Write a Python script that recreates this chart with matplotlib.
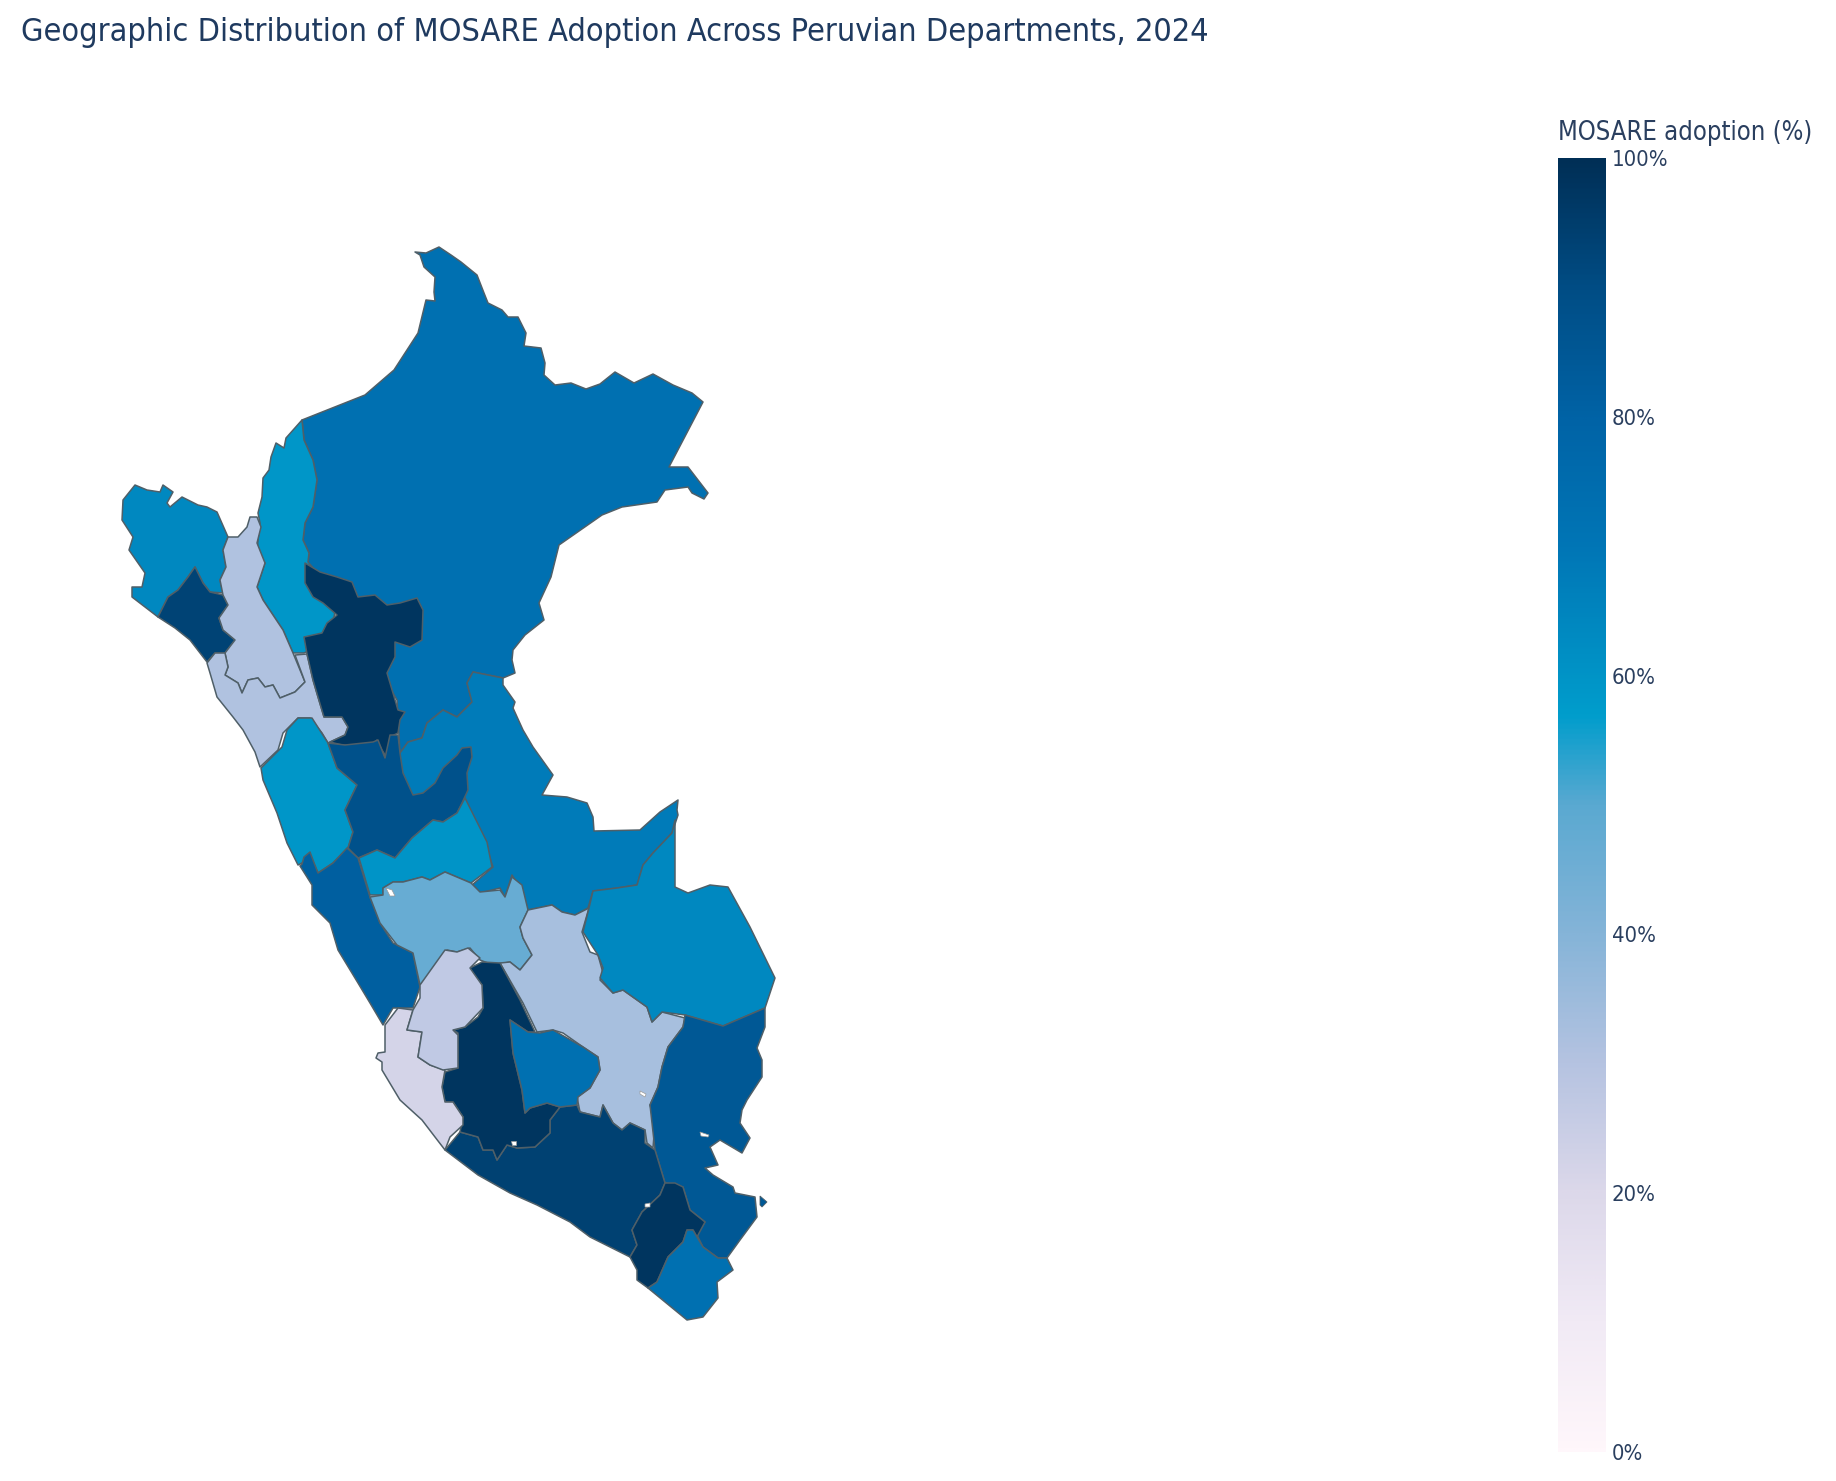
#!/usr/bin/env python3

import matplotlib
matplotlib.use('Agg')
import matplotlib.pyplot as plt
import numpy as np
from matplotlib.colors import LinearSegmentedColormap
from matplotlib.patches import Polygon

TITLE = 'Geographic Distribution of MOSARE Adoption Across Peruvian Departments, 2024'
COLORBAR_TITLE = 'MOSARE adoption (%)'
TICK_VALUES = [0, 20, 40, 60, 80, 100]
TICK_LABELS = ['0%', '20%', '40%', '60%', '80%', '100%']

# colour scale
SCALE_STOPS = [0.0, 0.1, 0.2, 0.3, 0.4, 0.5, 0.57, 0.7, 0.8, 0.9, 1.0]
SCALE_COLORS = ['#fff7fb', '#f1eaf5', '#dcd8ea', '#b5c3e1', '#85b4d8', '#5aa9d1',
                '#009dcc', '#0076b6', '#0063a6', '#004d85', '#002f56']

DEPARTMENTS = ['Loreto', 'Amazonas', 'Piura', 'Lambayeque', 'Cajamarca', 'La Libertad',
               'San Martin', 'Ancash', 'Ucayali', 'Huanuco', 'Pasco', 'Lima', 'Junin',
               'Cusco', 'Madre de Dios', 'Puno', 'Arequipa', 'Ayacucho', 'Apurimac',
               'Ica', 'Huancavelica', 'Moquegua', 'Tacna']
ADOPTION = [73, 59, 64, 93, 31, 31, 98, 59, 68, 88, 60, 82, 47, 33, 64, 85, 94, 98, 73,
            22, 27, 98, 73]

loreto = [(302, 420), (365, 395), (394, 370), (418, 333), (426, 300), (435, 301), (434, 292),
          (435, 277), (424, 267), (420, 255), (415, 252), (426, 253), (439, 247), (451, 255),
          (461, 262), (477, 275), (484, 293), (488, 303), (502, 310), (508, 317), (518, 317),
          (526, 333), (524, 346), (541, 348), (545, 363), (544, 375), (555, 385), (571, 383),
          (586, 389), (600, 384), (615, 372), (634, 383), (653, 374), (673, 385), (692, 393),
          (703, 402), (669, 467), (688, 467), (708, 493), (704, 499), (692, 493), (688, 487),
          (665, 490), (657, 502), (622, 507), (602, 515), (559, 545), (551, 577), (539, 603),
          (544, 620), (525, 635), (513, 650), (512, 660), (515, 673), (503, 678), (473, 672),
          (467, 683), (472, 702), (457, 717), (443, 710), (427, 723), (422, 738), (408, 742),
          (400, 753), (397, 700), (350, 620), (310, 575), (308, 562), (309, 553), (303, 540),
          (305, 523), (313, 507), (317, 480), (313, 460), (304, 440)]
amazonas = [(302, 420), (286, 438), (284, 448), (276, 443), (271, 457), (269, 470), (263, 478),
            (262, 497), (258, 513), (260, 523), (258, 540), (257, 552), (265, 563), (257, 587),
            (263, 600), (283, 630), (293, 653), (304, 653), (330, 640), (337, 600), (315, 570),
            (308, 562), (309, 553), (303, 540), (305, 523), (313, 507), (317, 480), (313, 460),
            (304, 440)]
piura = [(135, 485), (123, 500), (122, 520), (133, 537), (129, 550), (145, 573), (142, 587),
         (132, 587), (132, 597), (158, 617), (168, 597), (178, 590), (188, 577), (195, 567),
         (203, 583), (210, 592), (223, 593), (220, 580), (226, 567), (223, 550), (228, 537),
         (217, 512), (207, 507), (198, 505), (182, 497), (170, 507), (167, 503), (173, 492),
         (163, 485), (160, 492), (147, 490)]
lambayeque = [(158, 617), (175, 628), (190, 640), (207, 662), (215, 653), (225, 653), (235, 640),
              (223, 630), (219, 618), (228, 605), (223, 595), (210, 592), (203, 583), (195, 567),
              (188, 577), (178, 590), (168, 597)]
cajamarca = [(228, 537), (238, 537), (247, 527), (250, 517), (257, 517), (261, 527), (257, 543),
             (265, 563), (257, 587), (263, 600), (283, 630), (293, 653), (305, 682), (295, 692),
             (280, 698), (273, 685), (265, 687), (258, 678), (248, 680), (242, 693), (238, 683),
             (225, 675), (228, 667), (225, 653), (235, 640), (223, 630), (219, 618), (228, 605),
             (223, 595), (220, 580), (226, 567), (223, 550)]
la_libertad = [(207, 663), (215, 653), (225, 653), (228, 667), (225, 675), (238, 683), (242, 693),
               (248, 680), (258, 678), (265, 687), (273, 685), (280, 698), (295, 692), (305, 682),
               (295, 655), (307, 654), (313, 680), (318, 697), (324, 717), (342, 717), (348, 727),
               (345, 735), (328, 743), (322, 733), (310, 718), (298, 718), (283, 733), (278, 750),
               (260, 767), (255, 752), (243, 730), (233, 717), (217, 697), (210, 673)]
san_martin = [(305, 563), (320, 572), (337, 577), (352, 582), (358, 597), (375, 595), (387, 605),
              (400, 603), (417, 598), (423, 610), (422, 640), (410, 647), (395, 642), (395, 657),
              (387, 673), (393, 693), (398, 710), (405, 712), (400, 720), (398, 733), (390, 737),
              (387, 758), (382, 750), (377, 740), (370, 747), (342, 745), (330, 742), (345, 735),
              (348, 727), (342, 717), (324, 717), (318, 697), (313, 680), (307, 654), (304, 637),
              (322, 633), (327, 623), (337, 615), (323, 603), (313, 597), (305, 583)]
ancash = [(298, 718), (312, 718), (328, 743), (337, 768), (357, 785), (345, 810), (353, 832),
          (348, 848), (333, 863), (318, 873), (312, 860), (302, 863), (298, 865), (287, 843),
          (277, 813), (263, 780), (261, 768), (282, 747), (287, 730)]
ucayali = [(400, 753), (408, 742), (422, 738), (427, 723), (443, 710), (457, 717), (472, 702),
           (467, 683), (473, 672), (503, 678), (503, 685), (515, 702), (513, 708), (523, 730),
           (533, 747), (553, 775), (542, 795), (567, 797), (587, 803), (593, 817), (594, 831),
           (640, 830), (660, 812), (678, 800), (677, 810), (678, 815), (672, 833), (653, 853),
           (643, 865), (637, 885), (617, 888), (593, 891), (588, 908), (575, 915), (562, 912),
           (552, 905), (528, 910), (523, 893), (512, 875), (505, 897), (500, 888), (480, 893),
           (472, 885), (493, 867), (485, 843), (473, 820), (465, 798), (450, 795), (420, 800),
           (400, 790), (395, 760)]
huanuco = [(328, 743), (345, 745), (373, 742), (378, 740), (385, 758), (390, 735), (398, 735),
           (400, 753), (403, 773), (413, 795), (423, 793), (435, 783), (443, 768), (457, 755),
           (462, 748), (471, 747), (472, 757), (467, 773), (468, 790), (462, 803), (457, 813),
           (443, 822), (433, 820), (412, 838), (395, 858), (377, 850), (358, 858), (348, 848),
           (353, 832), (345, 810), (357, 785), (337, 768)]
pasco = [(359, 858), (377, 850), (395, 858), (412, 838), (433, 820), (443, 822), (457, 813),
         (465, 798), (477, 822), (487, 842), (492, 867), (471, 883), (445, 872), (430, 880),
         (422, 877), (403, 882), (393, 882), (383, 888), (383, 895), (370, 895)]
lima = [(302, 864), (304, 857), (310, 852), (313, 860), (318, 873), (333, 863), (347, 848),
        (358, 858), (370, 897), (380, 923), (393, 943), (413, 953), (420, 987), (413, 1008),
        (393, 1008), (383, 1025), (370, 1003), (358, 983), (338, 950), (330, 923), (312, 905),
        (312, 885), (300, 866)]
junin = [(370, 897), (383, 895), (383, 888), (393, 882), (403, 882), (422, 877), (430, 880),
         (445, 872), (471, 883), (480, 892), (500, 890), (505, 897), (512, 877), (522, 885),
         (528, 910), (520, 927), (523, 938), (532, 955), (520, 970), (510, 962), (493, 965),
         (480, 960), (470, 948), (457, 952), (447, 950), (437, 967), (420, 985), (413, 953),
         (397, 945), (380, 923)]
cusco = [(528, 910), (552, 905), (562, 912), (575, 915), (589, 908), (582, 932), (590, 952),
         (598, 955), (603, 973), (600, 980), (613, 993), (623, 990), (647, 1007), (652, 1022),
         (662, 1012), (685, 1018), (683, 1027), (668, 1047), (662, 1067), (658, 1087), (650, 1105),
         (655, 1123), (653, 1148), (647, 1143), (645, 1130), (630, 1123), (622, 1130), (613, 1123),
         (603, 1105), (600, 1117), (580, 1112), (577, 1097), (590, 1088), (600, 1070), (598, 1057),
         (583, 1047), (563, 1033), (553, 1030), (537, 1032), (523, 1003), (500, 963), (510, 962),
         (520, 970), (532, 955), (523, 938), (520, 927)]
madre_de_dios = [(593, 891), (617, 888), (637, 885), (643, 865), (653, 853), (672, 833), (675, 820),
                 (675, 887), (688, 893), (710, 885), (728, 887), (750, 927), (775, 978), (765, 1008),
                 (723, 1026), (685, 1015), (662, 1012), (652, 1022), (647, 1007), (623, 990),
                 (613, 993), (600, 978), (603, 968), (598, 955), (583, 932), (589, 908)]
puno = [(685, 1015), (723, 1026), (765, 1008), (765, 1027), (757, 1048), (762, 1060), (762, 1077),
        (747, 1100), (742, 1110), (740, 1123), (750, 1138), (742, 1153), (720, 1140), (710, 1147),
        (718, 1165), (705, 1168), (713, 1175), (733, 1187), (735, 1193), (755, 1197), (757, 1217),
        (740, 1240), (727, 1258), (718, 1258), (703, 1247), (697, 1235), (705, 1222), (690, 1210),
        (683, 1187), (665, 1183), (655, 1150), (650, 1105), (658, 1087), (662, 1067), (668, 1047),
        (683, 1027)]
arequipa = [(445, 1150), (478, 1175), (510, 1193), (537, 1205), (570, 1222), (590, 1237), (630, 1257),
            (637, 1245), (632, 1230), (642, 1212), (660, 1195), (665, 1183), (655, 1150), (645, 1143),
            (645, 1130), (630, 1123), (622, 1130), (613, 1123), (603, 1105), (600, 1117), (580, 1112),
            (577, 1105), (560, 1107), (550, 1120), (550, 1133), (535, 1147), (517, 1148), (507, 1145),
            (497, 1160), (493, 1150), (483, 1150), (478, 1137), (460, 1132)]
ayacucho = [(470, 968), (482, 962), (500, 963), (520, 1000), (535, 1032), (528, 1032), (510, 1020),
            (513, 1053), (522, 1090), (525, 1113), (530, 1108), (547, 1103), (560, 1107), (550, 1120),
            (550, 1133), (535, 1147), (517, 1148), (507, 1145), (497, 1160), (493, 1150), (483, 1150),
            (478, 1137), (460, 1132), (463, 1117), (453, 1102), (445, 1102), (442, 1087), (445, 1072),
            (458, 1068), (458, 1033), (453, 1030), (465, 1027), (478, 1017), (483, 1008), (482, 985),
            (472, 973)]
apurimac = [(510, 1020), (528, 1032), (540, 1033), (553, 1030), (583, 1047), (598, 1057), (600, 1070),
            (590, 1088), (578, 1097), (577, 1105), (560, 1107), (547, 1103), (530, 1108), (525, 1113),
            (522, 1090), (513, 1053)]
ica = [(385, 1025), (398, 1008), (413, 1010), (407, 1030), (422, 1032), (418, 1057), (430, 1065),
       (445, 1070), (442, 1087), (445, 1102), (453, 1102), (463, 1117), (463, 1125), (450, 1137),
       (445, 1150), (435, 1137), (422, 1120), (400, 1100), (388, 1080), (382, 1070), (382, 1062),
       (376, 1058), (378, 1053), (385, 1052)]
huancavelica = [(420, 985), (445, 950), (457, 952), (468, 948), (480, 958), (470, 968), (482, 985),
                (483, 1008), (465, 1027), (453, 1030), (458, 1035), (458, 1068), (443, 1070),
                (430, 1065), (418, 1057), (422, 1032), (407, 1030), (413, 1010), (420, 998)]
moquegua = [(637, 1280), (648, 1288), (657, 1282), (668, 1257), (683, 1242), (687, 1230), (693, 1230),
            (697, 1237), (705, 1222), (690, 1210), (683, 1187), (675, 1183), (665, 1183), (660, 1195),
            (642, 1212), (632, 1230), (637, 1245), (630, 1257), (637, 1270)]
tacna = [(648, 1288), (687, 1320), (703, 1317), (718, 1298), (717, 1282), (733, 1270), (727, 1258),
         (718, 1258), (703, 1247), (697, 1237), (693, 1230), (687, 1230), (683, 1242), (668, 1257),
         (657, 1282)]
OUTLINES = [loreto, amazonas, piura, lambayeque, cajamarca, la_libertad, san_martin, ancash, ucayali,
            huanuco, pasco, lima, junin, cusco, madre_de_dios, puno, arequipa, ayacucho, apurimac,
            ica, huancavelica, moquegua, tacna]

# lake and island specks that the shapes leave open
LAKES = [[(386, 888), (392, 890), (395, 896), (390, 896)],
         [(640, 1091), (646, 1094), (645, 1097), (640, 1094)],
         [(700, 1132), (709, 1135), (708, 1137), (701, 1136)],
         [(511, 1141), (516, 1141), (516, 1145), (512, 1145)],
         [(645, 1204), (650, 1203), (650, 1207), (645, 1207)]]
ISLAND = [(760, 1196), (767, 1202), (762, 1207), (760, 1205)]

TEXT_COLOR = '#2a3f5f'
EDGE_COLOR = '#4f5f68'


def main():
    plt.rcParams['font.family'] = 'DejaVu Sans'
    fig = plt.figure(figsize=(18.36, 14.81), dpi=100)
    cmap = LinearSegmentedColormap.from_list('adoption', list(zip(SCALE_STOPS, SCALE_COLORS)))

    # map
    ax = fig.add_axes([0, 0, 1, 1])
    ax.set_xlim(0, 1836)
    ax.set_ylim(1481, 0)
    ax.axis('off')
    for outline, value in zip(OUTLINES, ADOPTION):
        ax.add_patch(Polygon(outline, closed=True, facecolor=cmap(value/100),
                             edgecolor=EDGE_COLOR, linewidth=1.1, joinstyle='round'))
    for lake in LAKES:
        ax.add_patch(Polygon(lake, closed=True, facecolor='white', edgecolor='#9a9a9a', linewidth=0.5))
    ax.add_patch(Polygon(ISLAND, closed=True, facecolor=cmap(0.85), edgecolor=EDGE_COLOR, linewidth=0.6))

    fig.text(21/1836, 1 - 32/1481, TITLE, color='#1f3a5f', fontsize=23.2, fontstretch='condensed',
             va='center', ha='left')

    # colorbar
    cax = fig.add_axes([1558/1836, 1 - 1452/1481, 48/1836, (1452 - 158)/1481])
    gradient = np.linspace(0, 100, 512).reshape(-1, 1)
    cax.imshow(gradient, cmap=cmap, vmin=0, vmax=100, origin='lower', aspect='auto',
               extent=(0, 1, 0, 100))
    cax.set_xticks([])
    cax.yaxis.tick_right()
    cax.set_yticks(TICK_VALUES)
    cax.set_yticklabels(TICK_LABELS, color=TEXT_COLOR, fontsize=15.8, fontstretch='condensed')
    cax.tick_params(axis='y', length=0, pad=4)
    for spine in cax.spines.values():
        spine.set_visible(False)
    fig.text(1558/1836, 1 - 133/1481, COLORBAR_TITLE, color=TEXT_COLOR, fontsize=18.4,
             fontstretch='condensed', va='center', ha='left')

    fig.savefig('out.png', dpi=100, facecolor='white')


if __name__ == "__main__":
    main()
